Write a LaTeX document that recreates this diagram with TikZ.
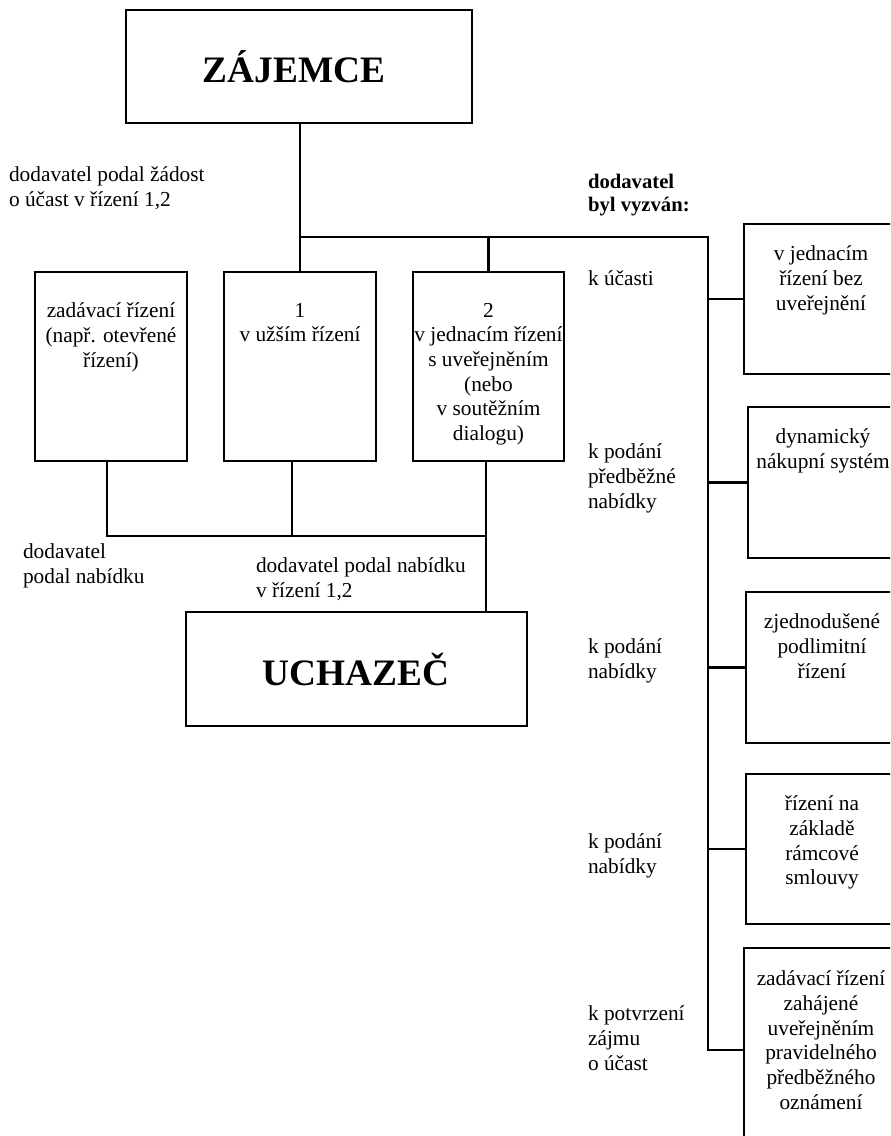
\documentclass[tikz,border=0pt]{standalone}
\usepackage{fontspec}
\setmainfont{Liberation Serif}
\begin{document}
\begin{tikzpicture}[x=0.75pt, y=-0.75pt,
  line width=1.6pt,
  box/.style={draw, rectangle, inner sep=0pt, outer sep=0pt, anchor=north west},
  txt/.style={inner sep=0pt, align=center, anchor=north, font=\fontsize{16}{18.5}\selectfont},
  lbl/.style={inner sep=0pt, align=left, anchor=north west, font=\fontsize{16}{18.5}\selectfont},
  title/.style={inner sep=0pt, anchor=base, font=\fontsize{28}{32}\selectfont\bfseries}]
\useasboundingbox (0,0) rectangle (890,1136);
\clip (0,0) rectangle (890,1136);

% main boxes
\node[box, minimum width=259.5pt, minimum height=84.75pt] (zaj) at (126,10) {};
\node[title] at (294,82) {ZÁJEMCE};
\node[box, minimum width=255.75pt, minimum height=85.5pt] (uch) at (186,612) {};
\node[title] at (356,685) {UCHAZEČ};

% procedure boxes in the middle row
\node[box, minimum width=114pt, minimum height=141.75pt] (zad) at (35,272) {};
\node[box, minimum width=114pt, minimum height=141.75pt] (b1) at (224,272) {};
\node[box, minimum width=113.25pt, minimum height=141.75pt] (b2) at (413,272) {};
\node[txt] at ([yshift=-22.5pt]zad.north) {zadávací řízení\\(např. otevřené\\řízení)};
\node[txt] at ([yshift=-22.5pt]b1.north) {1\\v užším řízení};
\node[txt] at ([yshift=-22.5pt]b2.north) {2\\v jednacím řízení\\s uveřejněním\\(nebo\\v soutěžním\\dialogu)};

% procedure boxes on the right
\node[box, minimum width=115.5pt, minimum height=112.5pt] (ra) at (744,224) {};
\node[box, minimum width=112.5pt, minimum height=113.25pt] (rb) at (748,407) {};
\node[box, minimum width=114pt, minimum height=113.25pt] (rc) at (746,592) {};
\node[box, minimum width=114pt, minimum height=112.5pt] (rd) at (746,774) {};
\node[box, minimum width=115.5pt, minimum height=150pt] (re) at (744,948) {};
\node[txt] at ([yshift=-15.75pt]ra.north) {v jednacím\\řízení bez\\uveřejnění};
\node[txt] at ([yshift=-15.75pt]rb.north) {dynamický\\nákupní systém};
\node[txt] at ([yshift=-15.75pt]rc.north) {zjednodušené\\podlimitní\\řízení};
\node[txt] at ([yshift=-15.75pt]rd.north) {řízení na\\základě\\rámcové\\smlouvy};
\node[txt] at ([yshift=-16.5pt]re.north) {zadávací řízení\\zahájené\\uveřejněním\\pravidelného\\předběžného\\oznámení};

% free labels
\node[lbl] (l1) at (8,166) {dodavatel podal žádost\\o účast v řízení 1,2};
\node[lbl] (l2) at (22,543) {dodavatel\\podal nabídku};
\node[lbl] (l3) at (255,557) {dodavatel podal nabídku\\v řízení 1,2};
\node[lbl, font=\fontsize{15.5}{17.5}\selectfont\bfseries] (l4) at (587,173) {dodavatel\\byl vyzván:};
\node[lbl] (k1) at (587,270) {k účasti};
\node[lbl] (k2) at (587,443) {k podání\\předběžné\\nabídky};
\node[lbl] (k3) at (587,638) {k podání\\nabídky};
\node[lbl] (k4) at (587,833) {k podání\\nabídky};
\node[lbl] (k5) at (587,1005) {k potvrzení\\zájmu\\o účast};

% junction points
\coordinate (busL) at (300,237);
\coordinate (busR) at (708,237);
\coordinate (busB) at (708,1050);
\coordinate (join) at (486,536);
\coordinate (b1out) at (292,461);
\coordinate (b2out) at (486,461);

% upper connectors
\draw (zaj.south -| busL) -- (busL) -- (busR) -- (busB) -- (busB -| re.west);
\draw (busL) -- (b1.north -| busL);
\draw (b2.north |- busL) -- (b2.north);
\draw (ra.west -| busR) -- (ra.west);
\draw (rb.west -| busR) -- (rb.west);
\draw (rc.west -| busR) -- (rc.west);
\draw (rd.west -| busR) -- (rd.west);

% lower connectors
\draw ([xshift=-3pt]zad.south) -- ([xshift=-3pt]zad.south |- join) -- (join);
\draw (b1out) -- (b1out |- join);
\draw (b2out) -- (uch.north -| b2out);
\end{tikzpicture}
\end{document}
